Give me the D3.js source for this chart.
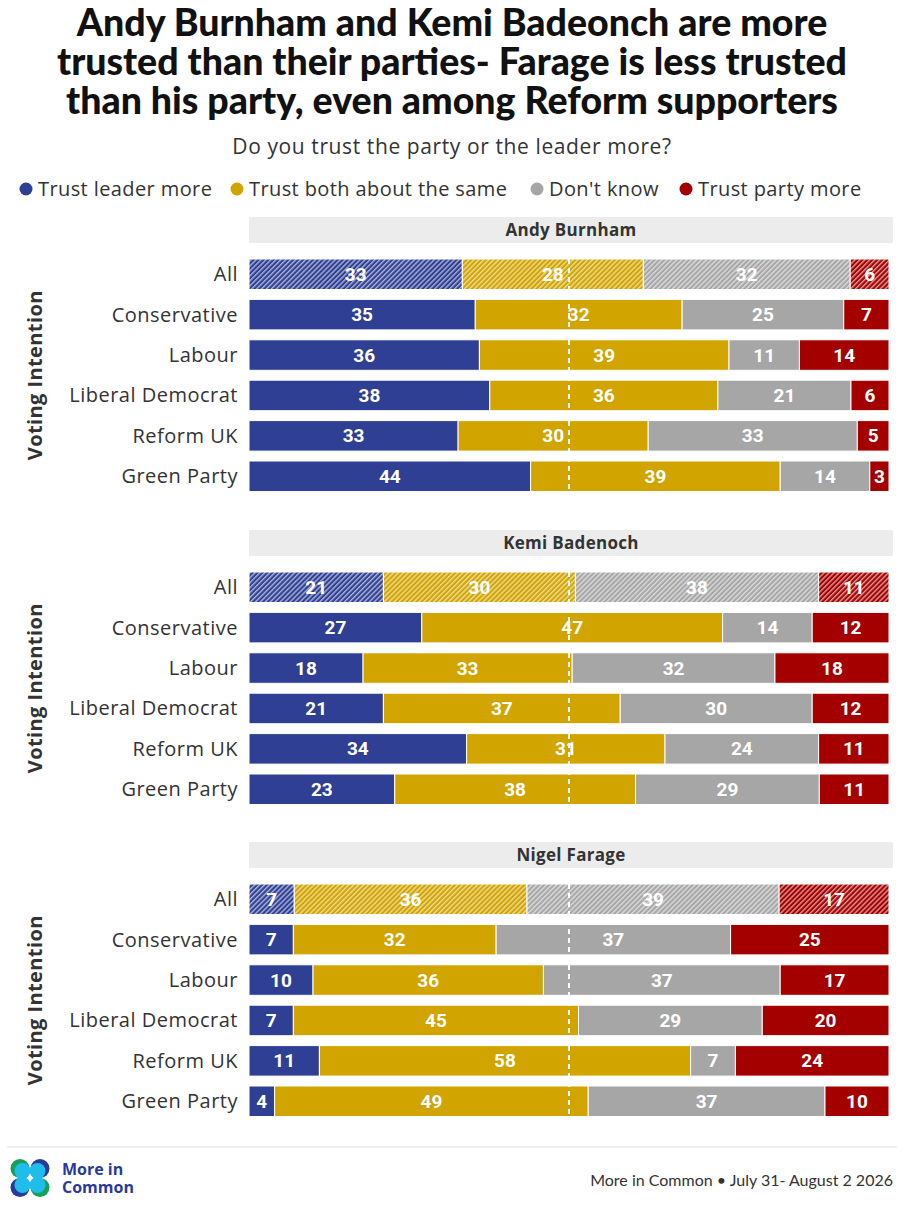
<!DOCTYPE html>
<html>
<head>
<meta charset="utf-8">
<script src="https://cdn.jsdelivr.net/npm/d3@7"></script>
<style>
  body { margin: 0; background: #fff; }
</style>
</head>
<body>
<svg id="chart" width="904" height="1214" font-family="'Open Sans', sans-serif"></svg>
<script>
// chart data
var groups = ["All", "Conservative", "Labour", "Liberal Democrat", "Reform UK", "Green Party"];
var series = ["Trust leader more", "Trust both about the same", "Don't know", "Trust party more"];
var colors = ["#2e3f94", "#d2a400", "#a6a6a6", "#a50000"];
var leaders = ["Andy Burnham", "Kemi Badenoch", "Nigel Farage"];

var burnham = [[33, 28, 32, 6], [35, 32, 25, 7], [36, 39, 11, 14], [38, 36, 21, 6], [33, 30, 33, 5], [44, 39, 14, 3]];
var badenoch = [[21, 30, 38, 11], [27, 47, 14, 12], [18, 33, 32, 18], [21, 37, 30, 12], [34, 31, 24, 11], [23, 38, 29, 11]];
var farage = [[7, 36, 39, 17], [7, 32, 37, 25], [10, 36, 37, 17], [7, 45, 29, 20], [11, 58, 7, 24], [4, 49, 37, 10]];
var panelData = [burnham, badenoch, farage];

var svg = d3.select("#chart");

// hatch patterns for the "All" rows
var defs = svg.append("defs");
colors.forEach(function(c, i) {
  var p = defs.append("pattern")
    .attr("id", "hatch" + i)
    .attr("patternUnits", "userSpaceOnUse")
    .attr("width", 3.5).attr("height", 3.5)
    .attr("patternTransform", "rotate(45)");
  p.append("rect").attr("width", 3.5).attr("height", 3.5).attr("fill", c);
  p.append("rect").attr("width", 1.4).attr("height", 3.5).attr("fill", "#fff").attr("opacity", 0.6);
});

// title
var title = ["Andy Burnham and Kemi Badeonch are more",
             "trusted than their parties- Farage is less trusted",
             "than his party, even among Reform supporters"];
svg.append("text").attr("x", 452).attr("y", 36)
  .attr("text-anchor", "middle").attr("font-size", 37.5).attr("font-weight", 900)
  .attr("font-family", "Lato, sans-serif").attr("fill", "#111")
  .selectAll("tspan").data(title).enter().append("tspan")
  .attr("x", 452).attr("dy", function(d, i) { return i === 0 ? 0 : 38.8; })
  .text(function(d) { return d; });

svg.append("text").attr("x", 452).attr("y", 154).attr("text-anchor", "middle")
  .attr("font-size", 21).attr("letter-spacing", 0.6).attr("fill", "#333")
  .text("Do you trust the party or the leader more?");

// legend
var legDot = [26, 237, 537, 686];
series.forEach(function(s, i) {
  var g = svg.append("g").attr("transform", "translate(" + legDot[i] + ",189)");
  g.append("circle").attr("cx", 0).attr("cy", 0).attr("r", 6.5).attr("fill", colors[i]);
  g.append("text").attr("x", 12).attr("y", 7).attr("font-size", 20).attr("letter-spacing", 0.4)
    .attr("fill", "#333").text(s);
});

var x0 = 249, x1 = 889;
var panelTop = [217, 530, 842];
var step = 40.4, bh = 30.5;

panelData.forEach(function(rows, pi) {
  var top = panelTop[pi];
  var g = svg.append("g");

  g.append("rect").attr("x", x0).attr("y", top).attr("width", 893 - x0).attr("height", 26).attr("fill", "#ececec");
  g.append("text").attr("x", 571).attr("y", top + 19).attr("text-anchor", "middle")
    .attr("font-size", 17).attr("letter-spacing", 0.3).attr("font-weight", 700).attr("fill", "#333").text(leaders[pi]);

  var y = d3.scaleBand().domain(groups)
    .range([top + 42, top + 42 + 5 * step + bh])
    .paddingInner(1 - bh / step).paddingOuter(0);

  g.append("text")
    .attr("transform", "translate(42," + (y("All") + (y("Green Party") + y.bandwidth() - y("All")) / 2) + ") rotate(-90)")
    .attr("text-anchor", "middle").attr("font-size", 20).attr("letter-spacing", 0.4)
    .attr("font-weight", 700).attr("fill", "#333")
    .text("Voting Intention");

  rows.forEach(function(vals, ri) {
    var grp = groups[ri];
    var total = d3.sum(vals);
    var x = d3.scaleLinear().domain([0, total]).range([x0, x1]);
    var cum = 0;
    var segs = vals.map(function(v, si) {
      var s = { v: v, si: si, a: cum, b: cum + v };
      cum += v;
      return s;
    });

    g.append("text").attr("x", 238).attr("y", y(grp) + y.bandwidth() / 2 + 7)
      .attr("text-anchor", "end").attr("font-size", 20).attr("letter-spacing", 0.5)
      .attr("fill", "#333").text(grp);

    var row = g.append("g");
    row.selectAll("rect").data(segs).enter().append("rect")
      .attr("x", function(d) { return x(d.a); })
      .attr("y", y(grp))
      .attr("width", function(d) { return x(d.b) - x(d.a); })
      .attr("height", y.bandwidth())
      .attr("fill", function(d) { return ri === 0 ? "url(#hatch" + d.si + ")" : colors[d.si]; })
      .attr("stroke", "#fff").attr("stroke-width", 1);

    row.selectAll("text").data(segs).enter().append("text")
      .attr("x", function(d) { return (x(d.a) + x(d.b)) / 2; })
      .attr("y", y(grp) + y.bandwidth() / 2 + 6.5)
      .attr("text-anchor", "middle").attr("font-size", 19).attr("font-weight", 700)
      .attr("fill", "#fff").attr("font-family", "Roboto, sans-serif")
      .text(function(d) { return d.v; });
  });

  // 50% reference line
  var xm = d3.scaleLinear().domain([0, 100]).range([x0, x1]);
  g.append("line").attr("x1", xm(50)).attr("x2", xm(50))
    .attr("y1", y("All")).attr("y2", y("Green Party") + y.bandwidth())
    .attr("stroke", "#fff").attr("stroke-width", 2).attr("stroke-dasharray", "5,4");
});

// footer
svg.append("line").attr("x1", 7).attr("x2", 897).attr("y1", 1147).attr("y2", 1147)
  .attr("stroke", "#ddd").attr("stroke-width", 1);

var logo = svg.append("g").attr("transform", "translate(30,1178)");
[[-1, -1, "#1a9e5c"], [1, -1, "#2a3a9a"], [-1, 1, "#2a3a9a"], [1, 1, "#1a9e5c"]].forEach(function(c) {
  logo.append("circle").attr("cx", c[0] * 10).attr("cy", c[1] * 9.5).attr("r", 9.5).attr("fill", c[2]);
});
[[-1, -1], [1, -1], [-1, 1], [1, 1]].forEach(function(c) {
  logo.append("circle").attr("cx", c[0] * 7.5).attr("cy", c[1] * 7).attr("r", 8).attr("fill", "#1fbdea");
});
logo.append("path").attr("d", "M0,-4 L2.5,0 L0,4 L-2.5,0 Z").attr("fill", "#fff");

svg.append("text").attr("x", 62).attr("y", 1175).attr("font-size", 16).attr("font-weight", 700)
  .attr("fill", "#2a3a9a")
  .selectAll("tspan").data(["More in", "Common"]).enter().append("tspan")
  .attr("x", 62).attr("dy", function(d, i) { return i === 0 ? 0 : 18; })
  .text(function(d) { return d; });
svg.append("text").attr("x", 893).attr("y", 1186).attr("text-anchor", "end").attr("font-size", 16)
  .attr("font-family", "Lato, sans-serif")
  .attr("fill", "#333").text("More in Common \u2022 July 31- August 2 2026");
</script>
</body>
</html>
